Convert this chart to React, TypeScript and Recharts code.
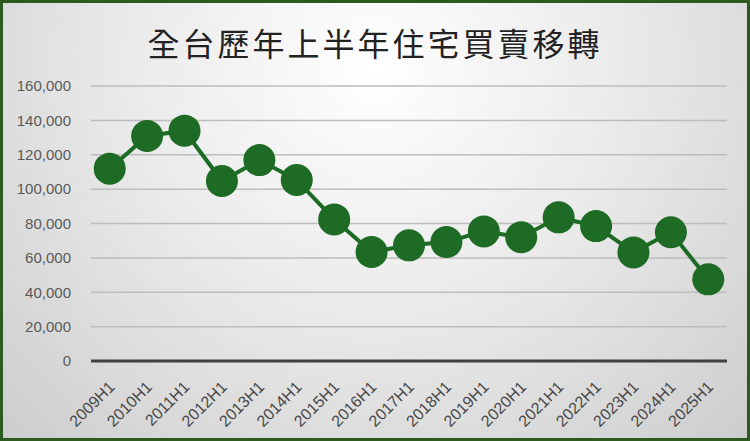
import { LineChart, Line, XAxis, YAxis, CartesianGrid } from "recharts";

const periods = [
  "2009H1", "2010H1", "2011H1", "2012H1", "2013H1", "2014H1", "2015H1", "2016H1", "2017H1",
  "2018H1", "2019H1", "2020H1", "2021H1", "2022H1", "2023H1", "2024H1", "2025H1",
];
const transfers = [
  111900, 130900, 134000, 104700, 116900, 105300, 82400, 63400, 67300,
  69200, 75400, 72000, 83600, 78500, 63200, 74900, 47500,
];
const yTicks = [0, 20000, 40000, 60000, 80000, 100000, 120000, 140000, 160000];

const title = "全台歷年上半年住宅買賣移轉";
const green = "#1d6b24";

const chartData = periods.map((period, i) => ({ period, value: transfers[i] }));

function PeriodTick({ x, y, payload }: any) {
  return (
    <g transform={`translate(${x + 6},${y + 19})`}>
      <text
        transform="rotate(-45)"
        textAnchor="end"
        fill="#474747"
        fontSize={16}
        fontFamily="Liberation Sans, Arial, sans-serif"
      >
        {payload.value}
      </text>
    </g>
  );
}

export default function App() {
  return (
    <div
      style={{
        position: "absolute",
        left: 0,
        top: 0,
        width: 750,
        height: 441,
        boxSizing: "border-box",
        border: "3px solid #2d5a1e",
        background: "radial-gradient(ellipse at 50% 15%, #ffffff 0%, #ebebeb 45%, #cdcdcd 100%)",
      }}
    >
      <div
        style={{
          position: "absolute",
          left: 0,
          right: 0,
          top: 16,
          textAlign: "center",
          fontFamily: "Noto Sans CJK TC, sans-serif",
          fontSize: 32,
          color: "#222222",
          letterSpacing: 3,
        }}
      >
        {title}
      </div>
      <LineChart width={744} height={435} data={chartData} margin={{ top: 83, right: 20, left: 0, bottom: 0 }}>
        <CartesianGrid vertical={false} stroke="#bdbdbd" strokeWidth={1.5} />
        <XAxis
          dataKey="period"
          height={77}
          padding={{ left: 18.7, right: 18.7 }}
          axisLine={{ stroke: "#404040", strokeWidth: 3 }}
          tickLine={false}
          tick={<PeriodTick />}
          interval={0}
        />
        <YAxis
          width={88}
          domain={[0, 160000]}
          ticks={yTicks}
          axisLine={false}
          tickLine={false}
          tickMargin={14}
          tickFormatter={(v: number) => v.toLocaleString("en-US")}
          tick={{ fill: "#595959", fontSize: 15, fontFamily: "Liberation Sans, Arial, sans-serif" }}
        />
        <Line
          type="linear"
          dataKey="value"
          stroke={green}
          strokeWidth={4}
          dot={{ r: 16, fill: green, stroke: "none" }}
          activeDot={false}
          isAnimationActive={false}
        />
      </LineChart>
    </div>
  );
}
